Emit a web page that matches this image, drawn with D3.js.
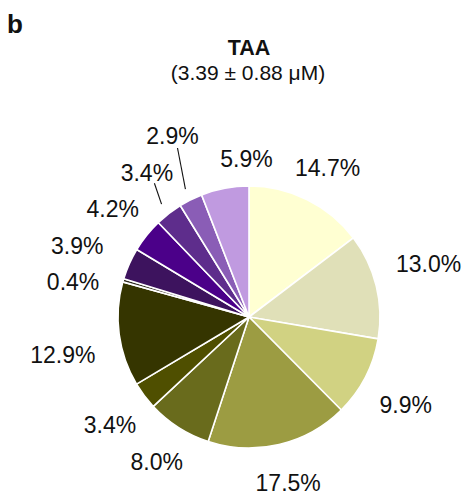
<!DOCTYPE html>
<html>
<head>
<meta charset="utf-8">
<script src="https://cdn.jsdelivr.net/npm/d3@7"></script>
<style>
  body { margin: 0; background: #fff; }
  text { font-family: "Liberation Sans", Arial, sans-serif; fill: #111; }
</style>
</head>
<body>
<svg id="chart"></svg>
<script>
// slice shares (%), clockwise from 12 o'clock
const shares = [14.7, 13.0, 9.9, 17.5, 8.0, 3.4, 12.9, 0.4, 3.9, 4.2, 3.4, 2.9, 5.9];
const shareLabels = ['14.7%', '13.0%', '9.9%', '17.5%', '8.0%', '3.4%', '12.9%', '0.4%', '3.9%', '4.2%', '3.4%', '2.9%', '5.9%'];
const sliceColors = ['#ffffd2', '#e0e0b8', '#d1d282', '#9c9c42', '#696b1c', '#4f4f00', '#353500',
                     '#2e2a1e', '#3d135e', '#4b0089', '#5e2d8c', '#8a5db6', '#c09ae0'];
const title = 'TAA';
const subtitle = '(3.39 \u00b1 0.88 \u03bcM)';
const panel = 'b';

// label layout: distance from centre (in radii) and turn from slice middle (deg)
const labelDist = [1.29, 1.43, 1.37, 1.30, 1.31, 1.34, 1.45, 1.37, 1.42, 1.33, 1.35, 1.50, 1.21];
const labelTurn = [1.3, -2.8, 1.7, 0, 0, -0.7, -3.8, -4.9, -1.4, 0, 2.5, 3.5, 9.7];
const withLeader = [10, 11];

const width = 467, height = 497;
const cx = 249, cy = 317, radius = 131;

const svg = d3.select('#chart')
    .attr('width', width)
    .attr('height', height);

svg.append('text')
    .attr('x', 7).attr('y', 33)
    .style('font-size', '26px').style('font-weight', 'bold')
    .text(panel);

svg.append('text')
    .attr('x', 249).attr('y', 55)
    .attr('text-anchor', 'middle')
    .style('font-size', '21.5px').style('font-weight', 'bold')
    .text(title);

svg.append('text')
    .attr('x', 248).attr('y', 80)
    .attr('text-anchor', 'middle')
    .style('font-size', '21px')
    .text(subtitle);

const pie = d3.pie().sort(null).value(d => d);
const arcs = pie(shares);
const arc = d3.arc().innerRadius(0).outerRadius(radius);

const g = svg.append('g')
    .attr('transform', `translate(${cx},${cy})`);

g.selectAll('path.slice')
  .data(arcs)
  .join('path')
    .attr('class', 'slice')
    .attr('d', arc)
    .attr('fill', (d, i) => sliceColors[i])
    .attr('stroke', '#fff')
    .attr('stroke-width', 1.6)
    .attr('stroke-linejoin', 'round');

const polar = (ang, r) => [r * Math.sin(ang), -r * Math.cos(ang)];
const mid = d => (d.startAngle + d.endAngle) / 2;
const labelAngle = (d, i) => mid(d) + labelTurn[i] * Math.PI / 180;

g.selectAll('line.leader')
  .data(arcs.filter((d, i) => withLeader.includes(i)))
  .join('line')
    .attr('class', 'leader')
    .each(function(d) {
      const i = d.index;
      const p0 = polar(mid(d), radius * 1.09);
      const p1 = polar(labelAngle(d, i), radius * labelDist[i] - 13);
      d3.select(this)
        .attr('x1', p0[0]).attr('y1', p0[1])
        .attr('x2', p1[0]).attr('y2', p1[1]);
    })
    .attr('stroke', '#111')
    .attr('stroke-width', 1.1);

g.selectAll('text.pct')
  .data(arcs)
  .join('text')
    .attr('class', 'pct')
    .attr('x', (d, i) => polar(labelAngle(d, i), radius * labelDist[i])[0])
    .attr('y', (d, i) => polar(labelAngle(d, i), radius * labelDist[i])[1])
    .attr('dy', '0.36em')
    .attr('text-anchor', 'middle')
    .style('font-size', '23px')
    .text((d, i) => shareLabels[i]);
</script>
</body>
</html>
